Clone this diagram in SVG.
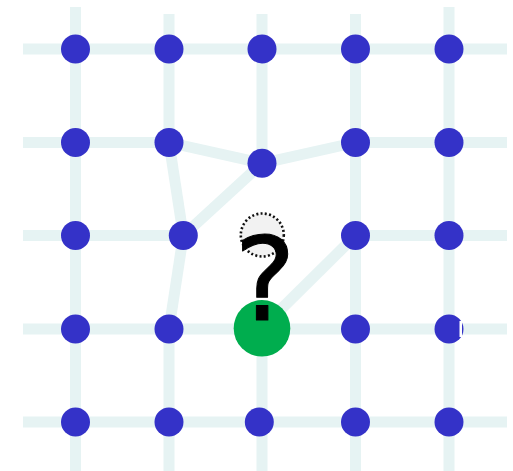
<svg xmlns="http://www.w3.org/2000/svg" width="513" height="471" viewBox="0 0 513 471">
<style>
.e{stroke:#e6f3f3;stroke-width:11;fill:none;stroke-linecap:butt}
.n{fill:#3432c8}
.g{fill:#00ad4e}
.ghost{fill:#f2f2f2;stroke:#111;stroke-width:2.6;stroke-dasharray:2 2.3}
.q{font-family:"DejaVu Sans",sans-serif;font-size:116px;fill:#000;stroke:#000;stroke-width:1;stroke-linejoin:round}
</style>
<rect width="513" height="471" fill="#fff"/>
<g id="connectors">
<line class="e" x1="23" y1="49" x2="507" y2="49"/>
<line class="e" x1="23" y1="142.5" x2="169" y2="142.5"/>
<line class="e" x1="355.5" y1="142.5" x2="507" y2="142.5"/>
<line class="e" x1="23" y1="235.5" x2="183.3" y2="235.5"/>
<line class="e" x1="355.5" y1="235.5" x2="507" y2="235.5"/>
<line class="e" x1="23" y1="329" x2="507" y2="329"/>
<line class="e" x1="23" y1="422" x2="507" y2="422"/>
<line class="e" x1="75.5" y1="7" x2="75.5" y2="471"/>
<line class="e" x1="169" y1="14" x2="169" y2="142.5"/>
<line class="e" x1="169" y1="329" x2="169" y2="471"/>
<line class="e" x1="262" y1="14" x2="262" y2="163.3"/>
<line class="e" x1="262" y1="328" x2="262" y2="471"/>
<line class="e" x1="355.5" y1="14" x2="355.5" y2="471"/>
<line class="e" x1="449" y1="7" x2="449" y2="471"/>
<line class="e" x1="169" y1="142.5" x2="262" y2="163.3"/>
<line class="e" x1="262" y1="163.3" x2="355.5" y2="142.5"/>
<line class="e" x1="169" y1="142.5" x2="183.3" y2="235.5"/>
<line class="e" x1="183.3" y1="235.5" x2="262" y2="163.3"/>
<line class="e" x1="183.3" y1="235.5" x2="169" y2="329"/>
<line class="e" x1="355.5" y1="235.5" x2="262" y2="328"/>
</g>
<g id="n11"><circle class="n" cx="75.5" cy="49" r="14.5"/></g>
<g id="n12"><circle class="n" cx="169" cy="49" r="14.5"/></g>
<g id="n13"><circle class="n" cx="262" cy="49" r="14.5"/></g>
<g id="n14"><circle class="n" cx="355.5" cy="49" r="14.5"/></g>
<g id="n15"><circle class="n" cx="449" cy="49" r="14.5"/></g>
<g id="n21"><circle class="n" cx="75.5" cy="142.5" r="14.5"/></g>
<g id="n22"><circle class="n" cx="169" cy="142.5" r="14.5"/></g>
<g id="n23"><circle class="n" cx="262" cy="163.3" r="14.5"/></g>
<g id="n24"><circle class="n" cx="355.5" cy="142.5" r="14.5"/></g>
<g id="n25"><circle class="n" cx="449" cy="142.5" r="14.5"/></g>
<g id="n31"><circle class="n" cx="75.5" cy="235.5" r="14.5"/></g>
<g id="n32"><circle class="n" cx="183.3" cy="235.5" r="14.5"/></g>
<g id="ghost"><circle class="ghost" cx="262.3" cy="235" r="21.5"/></g>
<g id="n34"><circle class="n" cx="355.5" cy="235.5" r="14.5"/></g>
<g id="n35"><circle class="n" cx="449" cy="235.5" r="14.5"/></g>
<g id="n41"><circle class="n" cx="75.5" cy="329" r="14.5"/></g>
<g id="n42"><circle class="n" cx="169" cy="329" r="14.5"/></g>
<g id="green"><circle class="g" cx="262" cy="328.3" r="28.3"/></g>
<g id="n44"><circle class="n" cx="355.5" cy="329" r="14.5"/></g>
<g id="n45"><circle class="n" cx="449" cy="329" r="14.5"/><rect x="459.5" y="321" width="2.5" height="16" fill="#fff"/></g>
<g id="n51"><circle class="n" cx="75.5" cy="422" r="14.5"/></g>
<g id="n52"><circle class="n" cx="169" cy="422" r="14.5"/></g>
<g id="n53"><circle class="n" cx="259.3" cy="422" r="14.5"/></g>
<g id="n54"><circle class="n" cx="355.5" cy="422" r="14.5"/></g>
<g id="n55"><circle class="n" cx="449" cy="422" r="14.5"/></g>
<g id="label"><text class="q" x="265" y="320" text-anchor="middle">?</text></g>
</svg>
